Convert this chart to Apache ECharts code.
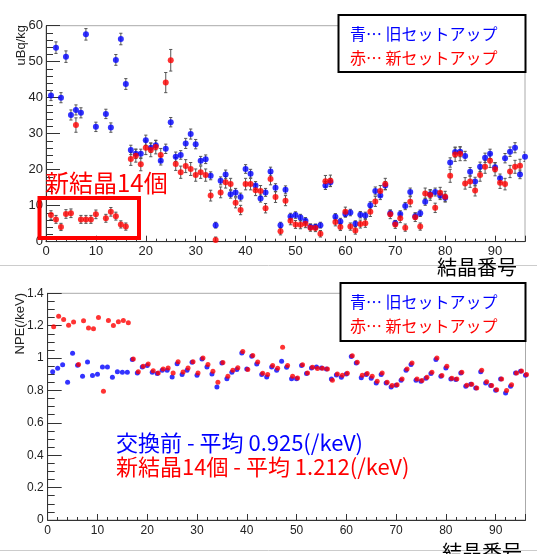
<!DOCTYPE html>
<html><head><meta charset="utf-8">
<script src="https://cdn.jsdelivr.net/npm/echarts@6/dist/echarts.min.js"></script>
<style>html,body{margin:0;padding:0;background:#fff}#c{width:537px;height:554px}</style>
</head><body><div id="c"></div>
<script>
// crystal number 1..96 (index + 1)
const topBlue = [
  40.6, 53.9, 40.0, 51.4, 35.2, 36.6, 35.8, 57.6, null, 31.9,
  null, 35.5, 31.7, 50.5, 56.3, 43.8, 25.5, 24.4, 24.4, 28.2,
  26.1, 26.8, 22.5, 25.8, 33.2, 23.6, 24.1, 27.3, 29.9, 27.1,
  22.5, 22.9, 18.3, 4.6, 16.9, 18.7, 13.2, 13.7, 12.4, 20.2,
  18.9, 15.6, 12.0, 13.7, 19.5, 15.0, 4.6, 14.4, 7.0, 7.4,
  6.7, 5.8, 4.1, 4.1, 4.6, 15.6, 16.5, 6.9, 5.6, 7.7,
  8.1, 5.0, 7.5, 7.3, 10.1, 14.1, 12.8, 15.6, 7.9, 5.1,
  7.7, 9.9, 13.8, 7.1, 7.9, 11.1, 13.2, 13.8, 12.8, 12.2,
  22.0, 24.9, 25.0, 23.8, 19.4, 16.7, 20.8, 23.3, 24.4, 20.7,
  17.6, 23.2, 25.0, 26.1, 18.7, 23.6
];
const topRed = [
  7.4, 6.2, 4.1, 7.7, 7.9, 32.4, 6.2, 6.2, 6.2, 7.6,
  null, 6.5, 8.3, 7.1, 4.8, 4.2, 23.0, 23.9, 21.5, 26.1,
  25.5, 26.3, 24.1, 44.2, 50.4, 21.6, 19.3, 21.0, 20.2, 18.5,
  19.3, 18.5, 12.8, 0.5, 13.7, 16.5, 16.0, 10.8, 8.8, 16.0,
  16.0, 14.3, 14.1, 9.3, 17.4, 12.4, 2.9, 11.4, 5.8, 4.8,
  4.7, 5.0, 3.9, 3.8, 2.2, 16.8, 16.9, 5.5, 4.1, 8.3,
  4.2, 3.1, 4.9, 5.1, 8.3, 11.2, 14.1, 16.0, 7.6, 4.8,
  6.5, 3.9, 11.1, 6.8, 4.2, 13.4, 13.0, 9.4, 13.6, 12.5,
  18.3, 24.2, 24.4, 16.2, 16.7, 14.2, 18.5, 20.8, 22.5, 20.1,
  16.4, 16.0, 19.5, 20.8, 21.1, null
];
const topBlueErr = [
  1.4, 1.6, 1.4, 1.6, 1.4, 1.4, 1.4, 1.6, null, 1.3,
  null, 1.3, 1.3, 1.5, 1.6, 1.5, 1.3, 1.3, 1.3, 1.4,
  1.3, 1.3, 1.2, 1.3, 1.3, 1.3, 1.2, 1.4, 1.4, 1.3,
  1.2, 1.2, 1.1, 0.8, 1.1, 1.2, 1.1, 1.1, 1.1, 1.2,
  1.2, 1.1, 1.0, 1.1, 1.2, 1.1, 0.8, 1.1, 0.9, 0.9,
  0.9, 0.9, 0.8, 0.8, 0.8, 1.1, 1.1, 0.9, 0.9, 0.9,
  0.9, 0.8, 0.9, 0.9, 1.0, 1.1, 1.1, 1.1, 0.9, 0.8,
  0.9, 1.0, 1.1, 0.9, 0.9, 1.0, 1.1, 1.1, 1.1, 1.0,
  1.3, 1.4, 1.4, 1.3, 1.2, 1.2, 1.3, 1.3, 1.3, 1.3,
  1.2, 1.3, 1.3, 1.4, 1.2, 1.3
];
const topRedErr = [
  1.2, 1.1, 1.0, 1.2, 1.2, 2.0, 1.1, 1.1, 1.1, 1.2,
  null, 1.1, 1.2, 1.1, 1.0, 1.0, 1.8, 1.8, 1.8, 1.9,
  1.9, 1.9, 1.8, 2.8, 3.0, 1.8, 1.7, 1.8, 1.8, 1.7,
  1.7, 1.7, 1.5, 0.8, 1.5, 1.6, 1.6, 1.4, 1.3, 1.6,
  1.6, 1.5, 1.5, 1.3, 1.6, 1.5, 1.0, 1.4, 1.1, 1.1,
  1.1, 1.1, 1.0, 1.0, 0.9, 1.6, 1.6, 1.1, 1.0, 1.3,
  1.0, 1.0, 1.1, 1.1, 1.3, 1.4, 1.5, 1.6, 1.2, 1.1,
  1.2, 1.0, 1.4, 1.2, 1.0, 1.5, 1.5, 1.3, 1.5, 1.5,
  1.8, 1.9, 1.9, 1.6, 1.6, 1.5, 1.7, 1.8, 1.9, 1.8,
  1.6, 1.6, 1.7, 1.8, 1.8, null
];
const npeBlue = [
  0.916, 0.937, 0.958, 0.850, 1.030, 0.956, 0.887, 0.976, 0.892, 0.900,
  0.945, 0.945, 0.881, 0.916, 0.912, 0.912, 0.991, 0.908, 0.945, 0.954,
  0.912, 0.904, 0.925, 0.925, 0.883, 0.965, 0.898, 0.925, 0.974, 0.894,
  0.995, 0.945, 0.902, 0.821, 0.970, 0.873, 0.912, 0.929, 1.032, 0.933,
  1.011, 0.964, 0.898, 0.883, 0.945, 0.925, 0.980, 0.943, 0.873, 0.873,
  0.954, 0.904, 0.939, 0.945, 0.939, 0.932, 0.871, 0.896, 0.881, 0.902,
  1.010, 0.970, 0.879, 0.898, 0.875, 0.846, 0.898, 0.846, 0.821, 0.832,
  0.863, 0.925, 0.960, 0.863, 0.857, 0.875, 0.904, 0.991, 0.887, 0.939,
  0.871, 0.867, 0.908, 0.826, 0.838, 0.815, 0.916, 0.846, 0.830, 0.801,
  0.871, 0.784, 0.826, 0.908, 0.918, 0.894
];
const npeRed = [
  1.193, 1.259, 1.238, 1.203, 1.222, 0.960, 1.230, 1.185, 1.181, 1.251,
  0.795, 1.232, 1.201, 1.224, 1.232, 1.218, 0.995, 0.916, 0.950, 0.963,
  0.921, 0.908, 0.932, 0.938, 0.908, 0.977, 0.914, 0.939, 0.978, 0.908,
  1.001, 0.960, 0.918, 0.850, 0.972, 0.887, 0.925, 0.941, 1.040, 0.929,
  1.016, 0.976, 0.906, 0.898, 0.954, 0.937, 1.067, 0.954, 0.887, 0.877,
  0.958, 0.908, 0.943, 0.935, 0.937, 0.932, 0.863, 0.902, 0.894, 0.906,
  1.015, 0.974, 0.894, 0.904, 0.887, 0.857, 0.908, 0.850, 0.830, 0.836,
  0.871, 0.932, 0.970, 0.871, 0.861, 0.881, 0.912, 1.001, 0.892, 0.950,
  0.875, 0.871, 0.912, 0.832, 0.838, 0.815, 0.925, 0.853, 0.830, 0.805,
  0.871, 0.800, 0.836, 0.908, 0.920, 0.898
];
const xTickLabels = ['0','10','20','30','40','50','60','70','80','90'];
const legendOld = '青… 旧セットアップ';
const legendNew = '赤… 新セットアップ';
const noteNew = '新結晶14個';
const noteAvgOld = '交換前 - 平均 0.925(/keV)';
const noteAvgNew = '新結晶14個 - 平均 1.212(/keV)';
const xTitle = '結晶番号';
const yTitleTop = 'uBq/kg';
const yTitleBottom = 'NPE(/keV)';

const BLUE = '#0000ff', RED = '#ff0000', AX = '#333';
const JP = '"Noto Sans CJK JP", sans-serif';
const LAT = '"Liberation Sans", Arial, sans-serif';

const pts = arr => arr.map((v, i) => v == null ? null : [i + 1, v]).filter(Boolean);
const errPts = (arr, err) => arr.map((v, i) => (v == null || err[i] == null) ? null : [i + 1, v - err[i], v + err[i]]).filter(Boolean);

function errSeries(arr, err) {
  return {
    type: 'custom', xAxisIndex: 0, yAxisIndex: 0, silent: true, clip: true, z: 2,
    data: errPts(arr, err), encode: { x: 0, y: [1, 2] },
    renderItem: (p, api) => {
      const x = api.value(0);
      const lo = api.coord([x, api.value(1)]);
      const hi = api.coord([x, api.value(2)]);
      const w = 1.6, st = { stroke: '#555', lineWidth: 1 };
      return { type: 'group', children: [
        { type: 'line', shape: { x1: lo[0], y1: lo[1], x2: hi[0], y2: hi[1] }, style: st },
        { type: 'line', shape: { x1: lo[0] - w, y1: lo[1], x2: lo[0] + w, y2: lo[1] }, style: st },
        { type: 'line', shape: { x1: hi[0] - w, y1: hi[1], x2: hi[0] + w, y2: hi[1] }, style: st }
      ]};
    }
  };
}

function xAxisCfg(gi, fs, margin) {
  return {
    type: 'value', gridIndex: gi, min: 0, max: 96, interval: 10,
    axisLine: { show: true, onZero: false, lineStyle: { color: AX, width: 1 } },
    axisTick: { show: true, inside: true, length: 6, lineStyle: { color: AX } },
    minorTick: { show: true, splitNumber: 5, length: 3, lineStyle: { color: AX } },
    splitLine: { show: false },
    axisLabel: { color: '#222', fontSize: fs, fontFamily: LAT, margin: margin, showMaxLabel: false,
      formatter: v => (v % 10 === 0 && v <= 90) ? xTickLabels[v / 10] : '' }
  };
}

const chart = echarts.init(document.getElementById('c'), null, { renderer: 'canvas' });
chart.setOption({
  animation: false,
  backgroundColor: '#fff',
  grid: [
    { left: 46, right: 12, top: 25.7, height: 216, show: true, borderColor: '#aaa', borderWidth: 1, backgroundColor: 'transparent' },
    { left: 47.7, right: 11.5, top: 293.3, height: 226.7, show: true, borderColor: '#aaa', borderWidth: 1, backgroundColor: 'transparent' }
  ],
  xAxis: [ xAxisCfg(0, 13, 3), xAxisCfg(1, 12, 5) ],
  yAxis: [
    { type: 'value', gridIndex: 0, min: 0, max: 60, interval: 10,
      axisLine: { show: true, onZero: false, lineStyle: { color: AX } },
      axisTick: { show: true, inside: true, length: 14, lineStyle: { color: AX } },
      minorTick: { show: true, splitNumber: 5, length: 7, lineStyle: { color: AX } },
      splitLine: { show: false },
      axisLabel: { color: '#222', fontSize: 13, fontFamily: LAT, margin: 3 } },
    { type: 'value', gridIndex: 1, min: 0, max: 1.4, interval: 0.2,
      axisLine: { show: true, onZero: false, lineStyle: { color: AX } },
      axisTick: { show: true, inside: true, length: 14, lineStyle: { color: AX } },
      minorTick: { show: true, splitNumber: 4, length: 7, lineStyle: { color: AX } },
      splitLine: { show: false },
      axisLabel: { color: '#222', fontSize: 12, fontFamily: LAT, margin: 4 } }
  ],
  series: [
    errSeries(topBlue, topBlueErr),
    { type: 'scatter', xAxisIndex: 0, yAxisIndex: 0, data: pts(topBlue), symbol: 'circle', symbolSize: 6, itemStyle: { color: BLUE }, z: 3, silent: true },
    errSeries(topRed, topRedErr),
    { type: 'scatter', xAxisIndex: 0, yAxisIndex: 0, data: pts(topRed), symbol: 'circle', symbolSize: 6, itemStyle: { color: RED }, z: 4, silent: true, clip: false },
    { type: 'scatter', xAxisIndex: 1, yAxisIndex: 1, data: pts(npeBlue), symbol: 'circle', symbolSize: 5, itemStyle: { color: BLUE }, z: 3, silent: true },
    { type: 'scatter', xAxisIndex: 1, yAxisIndex: 1, data: pts(npeRed), symbol: 'circle', symbolSize: 5, symbolOffset: [1, 0], itemStyle: { color: RED }, z: 4, silent: true }
  ],
  graphic: [
    { type: 'line', shape: { x1: 0, y1: 265.5, x2: 537, y2: 265.5 }, style: { stroke: '#ccc', lineWidth: 1 }, z: 0 },
    { type: 'line', shape: { x1: 0, y1: 550.5, x2: 537, y2: 550.5 }, style: { stroke: '#ccc', lineWidth: 1 }, z: 0 },
    // top legend
    { type: 'rect', shape: { x: 338.5, y: 15, width: 187, height: 57 }, style: { fill: '#fff', stroke: '#000', lineWidth: 2 }, z: 10 },
    { type: 'text', x: 350, y: 33.5, style: { text: legendOld, fill: BLUE, font: '16px ' + JP, verticalAlign: 'middle' }, z: 11 },
    { type: 'text', x: 350, y: 58, style: { text: legendNew, fill: RED, font: '16px ' + JP, verticalAlign: 'middle' }, z: 11 },
    // bottom legend
    { type: 'rect', shape: { x: 340.5, y: 283, width: 185, height: 58 }, style: { fill: '#fff', stroke: '#000', lineWidth: 2 }, z: 10 },
    { type: 'text', x: 350, y: 301.5, style: { text: legendOld, fill: BLUE, font: '16px ' + JP, verticalAlign: 'middle' }, z: 11 },
    { type: 'text', x: 350, y: 325.5, style: { text: legendNew, fill: RED, font: '16px ' + JP, verticalAlign: 'middle' }, z: 11 },
    // annotations
    { type: 'text', x: 45, y: 183, style: { text: noteNew, fill: RED, font: '24px ' + JP, verticalAlign: 'middle' }, z: 11 },
    { type: 'rect', shape: { x: 39.5, y: 198, width: 99.5, height: 40 }, style: { fill: 'none', stroke: RED, lineWidth: 4 }, z: 11 },
    { type: 'text', x: 116, y: 443, style: { text: noteAvgOld, fill: BLUE, font: '22px ' + JP, verticalAlign: 'middle' }, z: 11 },
    { type: 'text', x: 116, y: 467, style: { text: noteAvgNew, fill: RED, font: '22px ' + JP, verticalAlign: 'middle' }, z: 11 },
    // axis titles
    { type: 'text', x: 437, y: 267, style: { text: xTitle, fill: '#000', font: '20px ' + JP, verticalAlign: 'middle' }, z: 11 },
    { type: 'text', x: 442, y: 552, style: { text: xTitle, fill: '#000', font: '20px ' + JP, verticalAlign: 'middle' }, z: 11 },
    { type: 'text', x: 21, y: 25, rotation: Math.PI / 2, style: { text: yTitleTop, fill: '#222', font: '13px ' + LAT, align: 'right', verticalAlign: 'middle' }, z: 11 },
    { type: 'text', x: 20.5, y: 293, rotation: Math.PI / 2, style: { text: yTitleBottom, fill: '#222', font: '13px ' + LAT, align: 'right', verticalAlign: 'middle' }, z: 11 }
  ]
});
</script>
</body></html>
